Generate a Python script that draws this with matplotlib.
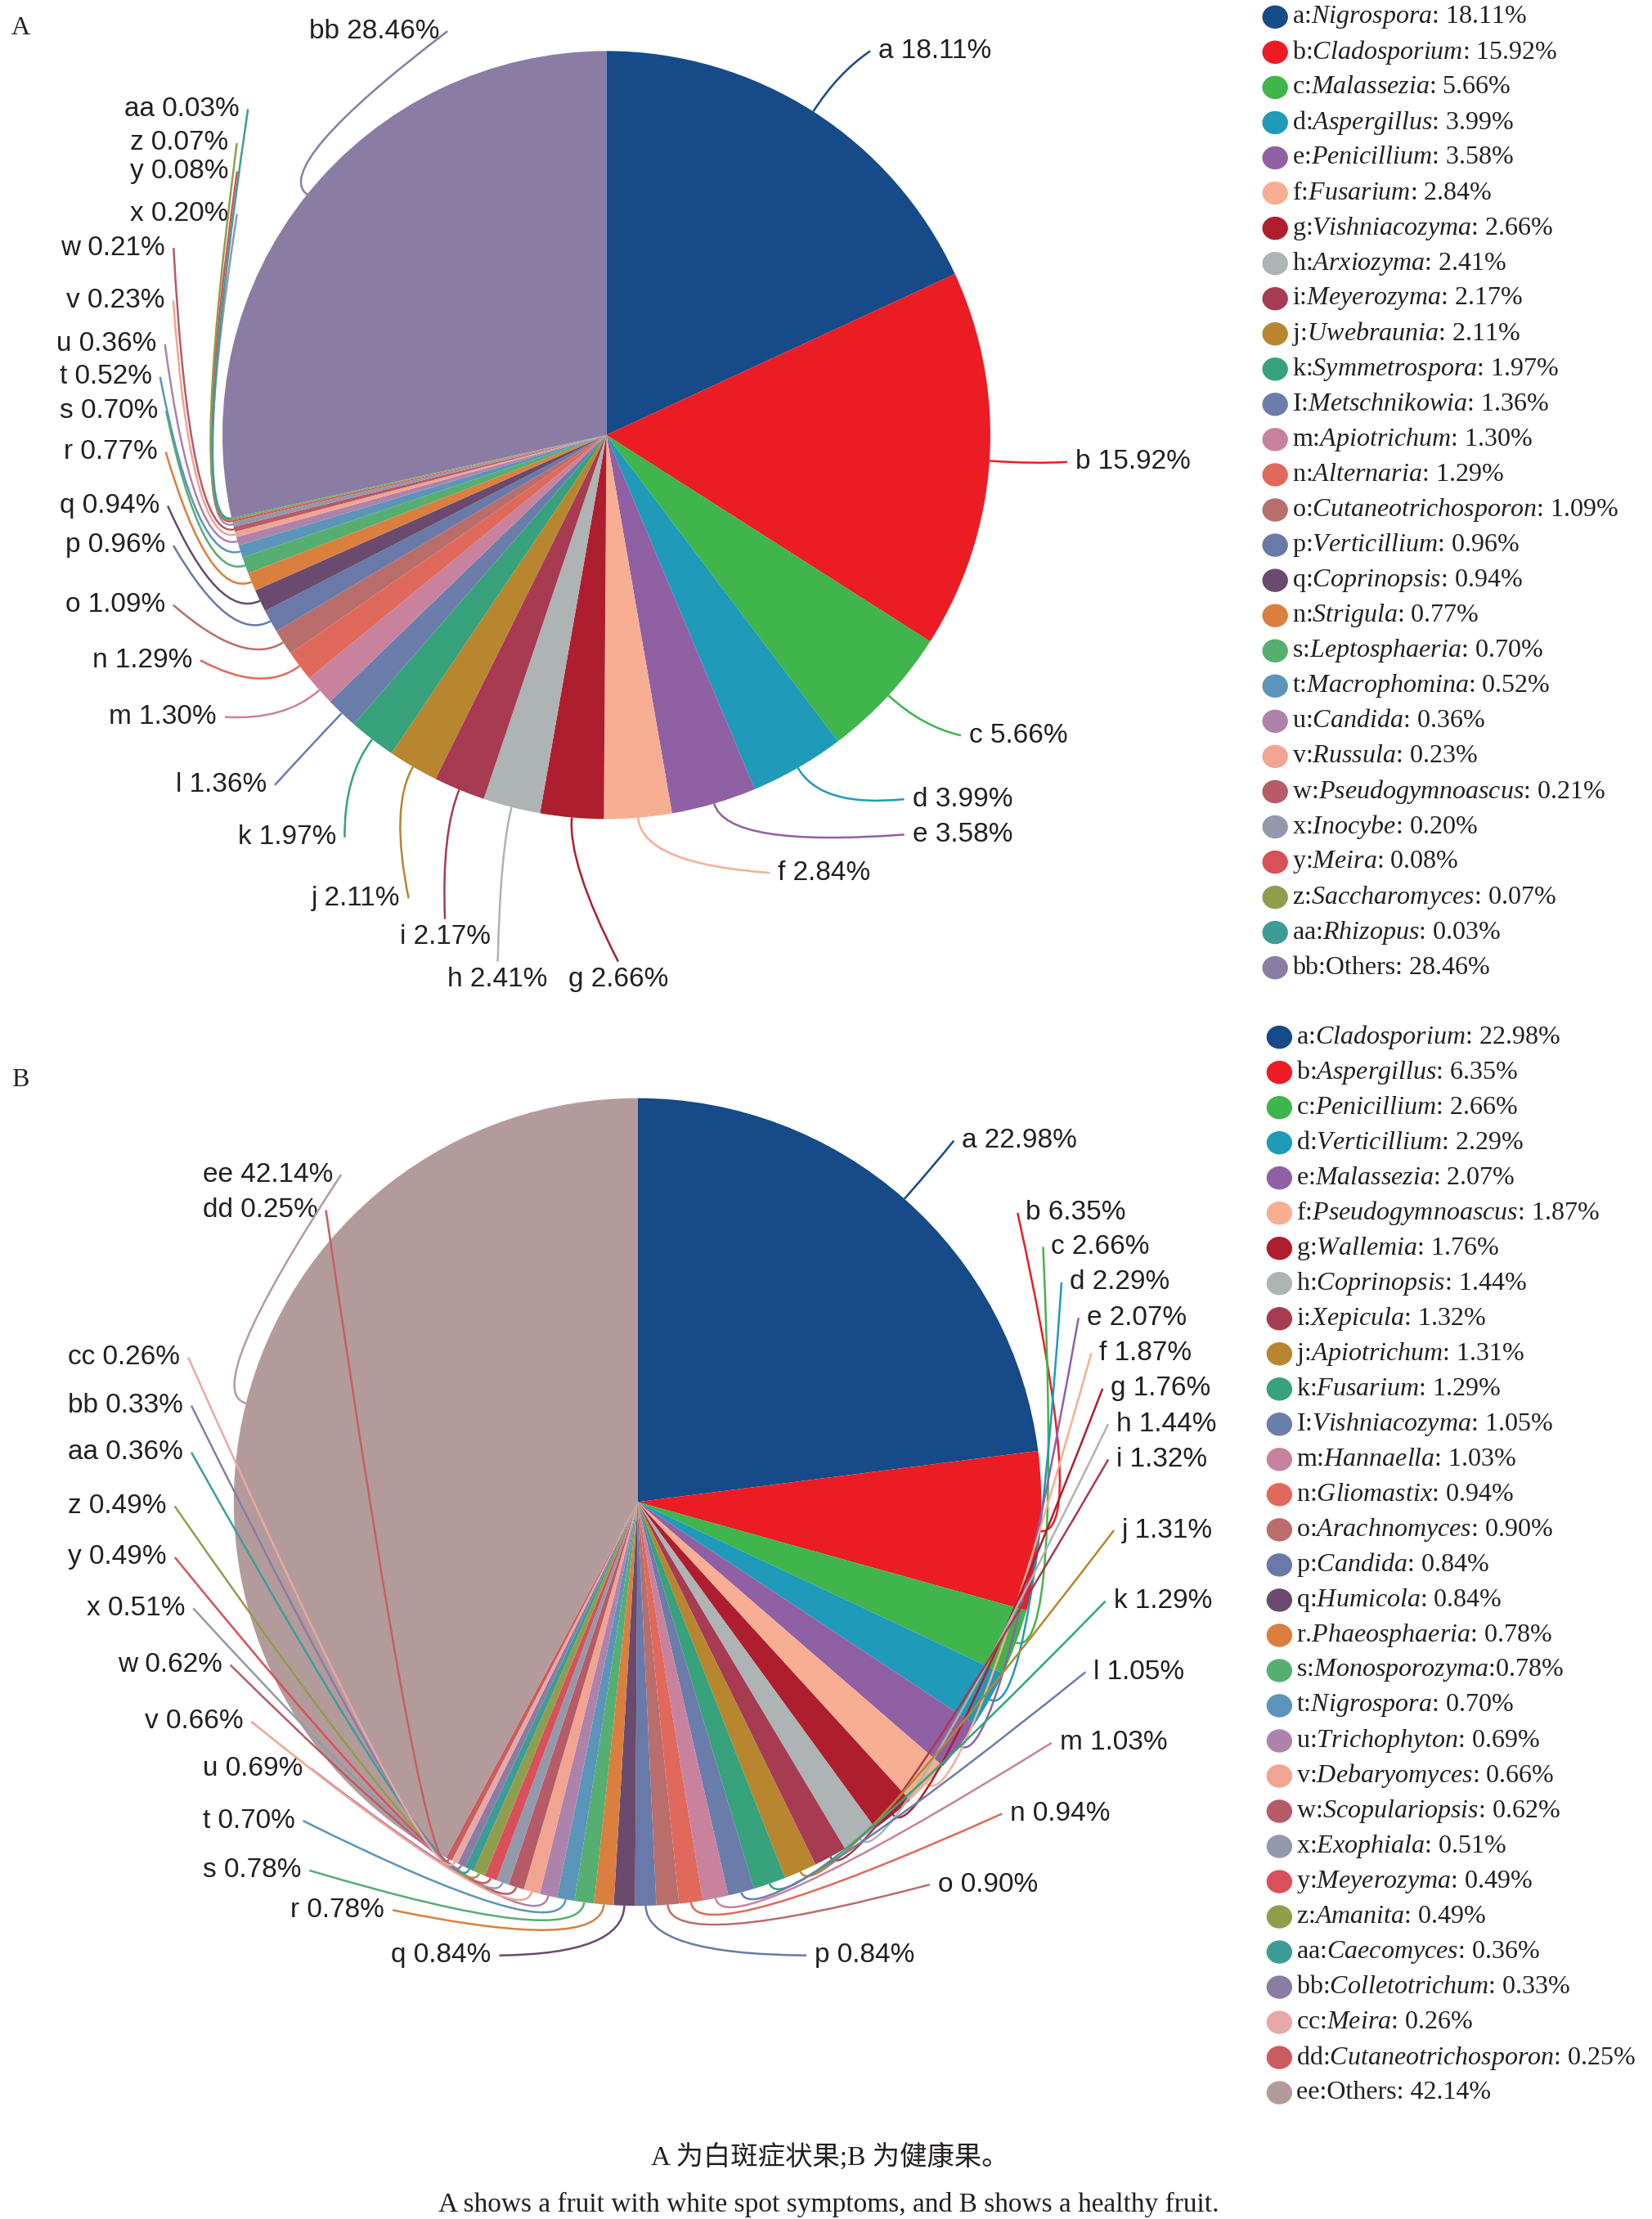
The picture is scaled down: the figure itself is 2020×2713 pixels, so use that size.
import matplotlib
matplotlib.use("Agg")
import matplotlib.pyplot as plt
import numpy as np
from matplotlib.patches import Ellipse, PathPatch
from matplotlib.path import Path

plt.rcParams['mathtext.fontset'] = 'custom'
plt.rcParams['mathtext.rm'] = 'Liberation Serif'
plt.rcParams['mathtext.it'] = 'Liberation Serif:italic'

# ---- A: fruit with white spot symptoms
keys_a = ['a', 'b', 'c', 'd', 'e', 'f', 'g', 'h', 'i', 'j', 'k', 'l', 'm', 'n',
          'o', 'p', 'q', 'r', 's', 't', 'u', 'v', 'w', 'x', 'y', 'z', 'aa', 'bb']
legkeys_a = ['a:', 'b:', 'c:', 'd:', 'e:', 'f:', 'g:', 'h:', 'i:', 'j:', 'k:', 'I:',
             'm:', 'n:', 'o:', 'p:', 'q:', 'n:', 's:', 't:', 'u:', 'v:', 'w:', 'x:',
             'y:', 'z:', 'aa:', 'bb:']
genus_a = ['Nigrospora', 'Cladosporium', 'Malassezia', 'Aspergillus', 'Penicillium',
           'Fusarium', 'Vishniacozyma', 'Arxiozyma', 'Meyerozyma', 'Uwebraunia',
           'Symmetrospora', 'Metschnikowia', 'Apiotrichum', 'Alternaria',
           'Cutaneotrichosporon', 'Verticillium', 'Coprinopsis', 'Strigula',
           'Leptosphaeria', 'Macrophomina', 'Candida', 'Russula', 'Pseudogymnoascus',
           'Inocybe', 'Meira', 'Saccharomyces', 'Rhizopus', 'Others']
pct_a = [18.11, 15.92, 5.66, 3.99, 3.58, 2.84, 2.66, 2.41, 2.17, 2.11, 1.97, 1.36,
         1.30, 1.29, 1.09, 0.96, 0.94, 0.77, 0.70, 0.52, 0.36, 0.23, 0.21, 0.20,
         0.08, 0.07, 0.03, 28.46]

# ---- B: healthy fruit
keys_b = ['a', 'b', 'c', 'd', 'e', 'f', 'g', 'h', 'i', 'j', 'k', 'l', 'm', 'n',
          'o', 'p', 'q', 'r', 's', 't', 'u', 'v', 'w', 'x', 'y', 'z', 'aa', 'bb',
          'cc', 'dd', 'ee']
legkeys_b = ['a:', 'b:', 'c:', 'd:', 'e:', 'f:', 'g:', 'h:', 'i:', 'j:', 'k:', 'I:',
             'm:', 'n:', 'o:', 'p:', 'q:', 'r.', 's:', 't:', 'u:', 'v:', 'w:', 'x:',
             'y:', 'z:', 'aa:', 'bb:', 'cc:', 'dd:', 'ee:']
genus_b = ['Cladosporium', 'Aspergillus', 'Penicillium', 'Verticillium', 'Malassezia',
           'Pseudogymnoascus', 'Wallemia', 'Coprinopsis', 'Xepicula', 'Apiotrichum',
           'Fusarium', 'Vishniacozyma', 'Hannaella', 'Gliomastix', 'Arachnomyces',
           'Candida', 'Humicola', 'Phaeosphaeria', 'Monosporozyma', 'Nigrospora',
           'Trichophyton', 'Debaryomyces', 'Scopulariopsis', 'Exophiala', 'Meyerozyma',
           'Amanita', 'Caecomyces', 'Colletotrichum', 'Meira', 'Cutaneotrichosporon',
           'Others']
pct_b = [22.98, 6.35, 2.66, 2.29, 2.07, 1.87, 1.76, 1.44, 1.32, 1.31, 1.29, 1.05,
         1.03, 0.94, 0.90, 0.84, 0.84, 0.78, 0.78, 0.70, 0.69, 0.66, 0.62, 0.51,
         0.49, 0.49, 0.36, 0.33, 0.26, 0.25, 42.14]

base_colors = ['#164a89', '#ec1c24', '#3fb54b', '#1f9ab8', '#9060a5', '#f8ae92',
               '#ae1e2f', '#adb4b3', '#a63b52', '#b7862f', '#37a27b', '#6a7dab',
               '#c9829e', '#e0695b', '#b96e6c', '#6a7aa8', '#6a4a6e', '#db7f3e',
               '#57ae71', '#5b95b9', '#ad83ac', '#f2a493', '#b65b67', '#9299ab',
               '#d9505a', '#8f9e4c', '#3e9c97']
colors_a = base_colors + ['#8a7ca3']
colors_b = base_colors + ['#8a7ca3', '#e8a8a8', '#c95d5f', '#b39b9c']

# layout (in units of the 1166 px wide preview, scaled below)
S = 2020 / 1166
lab_a = [(620, 36), (759, 326), (684, 519), (644, 564), (644, 589), (549, 616),
         (401, 691), (316, 691), (282, 661), (220, 634), (168, 591), (124, 554),
         (77, 506), (65, 466), (46, 427), (46, 385), (42, 357), (45, 319), (42, 290),
         (42, 266), (40, 243), (47, 212), (43, 175), (92, 151), (92, 121), (92, 101),
         (88, 77), (218, 22)]
lab_b = [(679, 805), (724, 856), (742, 880), (755, 905), (767, 930), (776, 955),
         (784, 980), (788, 1005), (788, 1030), (792, 1080), (786, 1130), (772, 1180),
         (748, 1230), (713, 1280), (662, 1330), (575, 1380), (276, 1380), (205, 1348),
         (143, 1320), (143, 1285), (143, 1248), (102, 1215), (83, 1175), (61, 1135),
         (48, 1099), (48, 1063), (48, 1025), (48, 992), (48, 958), (143, 854),
         (143, 829)]

W, H = 2020, 2713
fig = plt.figure(figsize=(W / 100, H / 100), dpi=100)
ax = fig.add_axes([0, 0, 1, 1])


def draw_panel(vals, cols, keys, labpos, center, radius):
    wedges, _ = ax.pie(vals, colors=cols, startangle=-90, counterclock=True,
                       center=center, radius=radius,
                       wedgeprops=dict(linewidth=0))
    ax.set_xlim(0, W)
    ax.set_ylim(H, 0)
    ax.set_aspect('auto')
    rend = fig.canvas.get_renderer()
    inv = ax.transData.inverted()
    cx, cy = center
    for w, k, v, (lx, ly), c in zip(wedges, keys, vals, labpos, cols):
        lx, ly = lx * S, ly * S
        t = ax.text(lx, ly, f"{k} {v:.2f}%", fontsize=24, family='Liberation Sans',
                    color='#231f20', ha='left', va='center')
        bb = t.get_window_extent(renderer=rend)
        (x0, ya), (x1, yb) = inv.transform([[bb.x0, bb.y0], [bb.x1, bb.y1]])
        ytop, ybot = min(ya, yb), max(ya, yb)
        if x0 > cx + 0.35 * radius:
            end = (x0 - 10, ly)
        elif x1 < cx - 0.35 * radius:
            end = (x1 + 10, ly)
        elif ly > cy:
            end = ((x0 + x1) / 2, ytop - 6)
        else:
            end = ((x0 + x1) / 2, ybot + 6)
        th = np.deg2rad((w.theta1 + w.theta2) / 2)
        u = np.array([np.cos(th), np.sin(th)])
        p0 = np.array(center) + u * radius
        p1 = p0 + u * radius * 0.12
        path = Path([p0, p1, end], [Path.MOVETO, Path.CURVE3, Path.CURVE3])
        ax.add_patch(PathPatch(path, fill=False, edgecolor=c, lw=1.8, zorder=5))


def draw_legend(prefixes, names, vals, cols, x_mark, y_first, step, nospace=()):
    for i, (p, n, v, c) in enumerate(zip(prefixes, names, vals, cols)):
        y = (y_first + i * step) * S
        ax.add_patch(Ellipse((x_mark * S, y), 30, 27, color=c, zorder=5))
        name = n if n == 'Others' else r'$\mathit{' + n + '}$'
        sep = ':' if i in nospace else ': '
        ax.text((x_mark + 12) * S, y, f"{p}{name}{sep}{v:.2f}%", fontsize=23,
                family='Liberation Serif', color='#231f20', ha='left', va='center')


draw_panel(pct_a, colors_a, keys_a, lab_a, (428 * S, 307 * S), 271 * S)
draw_panel(pct_b, colors_b, keys_b, lab_b, (450 * S, 1060 * S), 285 * S)

draw_legend(legkeys_a, genus_a, pct_a, colors_a, 900, 12, 24.85)
draw_legend(legkeys_b, genus_b, pct_b, colors_b, 903, 732, 24.83, nospace=(18,))

ax.text(8 * S, 20 * S, 'A', fontsize=23, family='Liberation Serif', ha='left',
        va='center', color='#231f20')
ax.text(8 * S, 762 * S, 'B', fontsize=23, family='Liberation Serif', ha='left',
        va='center', color='#231f20')

ax.text(586 * S, 1522 * S, 'A 为白斑症状果;B 为健康果。', fontsize=24,
        family=['Liberation Serif', 'Noto Sans CJK SC'], ha='center', va='center',
        color='#231f20')
ax.text(585 * S, 1556 * S,
        'A shows a fruit with white spot symptoms, and B shows a healthy fruit.',
        fontsize=24, family='Liberation Serif', ha='center', va='center',
        color='#231f20')

ax.axis('off')
fig.savefig('out.png', dpi=100, facecolor='white')
